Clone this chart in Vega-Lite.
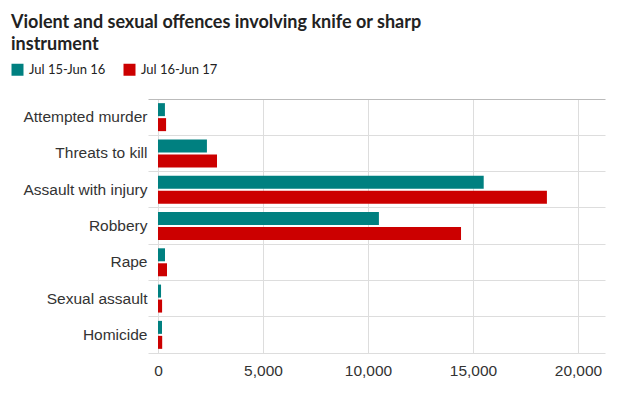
{
  "$schema": "https://vega.github.io/schema/vega-lite/v6.json",
  "width": 457,
  "height": 254,
  "autosize": {"type": "none"},
  "padding": {"left": 148, "top": 99, "right": 19, "bottom": 40},
  "background": "white",
  "title": {
    "text": ["Violent and sexual offences involving knife or sharp", "instrument"],
    "anchor": "start",
    "frame": "group",
    "dx": -137,
    "offset": 9,
    "font": "Lato",
    "fontSize": 18,
    "fontWeight": "bold",
    "lineHeight": 22,
    "color": "#222222"
  },
  "data": {
    "values": [
      {"category": "Attempted murder", "period": "Jul 15-Jun 16", "value": 330},
      {"category": "Attempted murder", "period": "Jul 16-Jun 17", "value": 385},
      {"category": "Threats to kill", "period": "Jul 15-Jun 16", "value": 2330},
      {"category": "Threats to kill", "period": "Jul 16-Jun 17", "value": 2810},
      {"category": "Assault with injury", "period": "Jul 15-Jun 16", "value": 15510},
      {"category": "Assault with injury", "period": "Jul 16-Jun 17", "value": 18520},
      {"category": "Robbery", "period": "Jul 15-Jun 16", "value": 10520},
      {"category": "Robbery", "period": "Jul 16-Jun 17", "value": 14430},
      {"category": "Rape", "period": "Jul 15-Jun 16", "value": 335},
      {"category": "Rape", "period": "Jul 16-Jun 17", "value": 430},
      {"category": "Sexual assault", "period": "Jul 15-Jun 16", "value": 145},
      {"category": "Sexual assault", "period": "Jul 16-Jun 17", "value": 195},
      {"category": "Homicide", "period": "Jul 15-Jun 16", "value": 190},
      {"category": "Homicide", "period": "Jul 16-Jun 17", "value": 200}
    ]
  },
  "mark": {"type": "bar", "cornerRadius": 0},
  "encoding": {
    "y": {
      "field": "category",
      "type": "nominal",
      "sort": null,
      "title": null,
      "scale": {"paddingInner": 0, "paddingOuter": 0},
      "axis": {
        "bandPosition": 0,
        "grid": true,
        "gridColor": {"condition": {"test": "datum.index === 0", "value": "#bbbbbb"}, "value": "#dddddd"},
        "gridWidth": 1,
        "ticks": false,
        "domain": false,
        "labelFont": "Liberation Sans",
        "labelFontSize": 15.5,
        "labelColor": "#333333",
        "labelPadding": 1,
        "labelLimit": 200
      }
    },
    "yOffset": {
      "field": "period",
      "type": "nominal",
      "scale": {"paddingInner": 0.133, "paddingOuter": 0.277}
    },
    "x": {
      "field": "value",
      "type": "quantitative",
      "title": null,
      "scale": {"domain": [-476, 21286], "nice": false, "zero": false},
      "axis": {
        "values": [0, 5000, 10000, 15000, 20000],
        "format": ",.0f",
        "grid": true,
        "gridColor": "#dddddd",
        "ticks": false,
        "domain": true,
        "domainColor": "#dddddd",
        "labelFont": "Liberation Sans",
        "labelFontSize": 15.5,
        "labelColor": "#333333",
        "labelPadding": 10
      }
    },
    "color": {
      "field": "period",
      "type": "nominal",
      "title": null,
      "scale": {"domain": ["Jul 15-Jun 16", "Jul 16-Jun 17"], "range": ["#008080", "#cc0000"]},
      "legend": {
        "orient": "none",
        "legendX": -137,
        "legendY": -36,
        "direction": "horizontal",
        "symbolType": "square",
        "symbolSize": 144,
        "symbolStrokeWidth": 0,
        "symbolOpacity": 1,
        "labelFont": "Lato",
        "labelFontSize": 13,
        "labelColor": "#222222",
        "labelOffset": 5,
        "columnPadding": 17,
        "padding": 0
      }
    }
  },
  "config": {
    "view": {"stroke": null},
    "font": "Liberation Sans"
  }
}
